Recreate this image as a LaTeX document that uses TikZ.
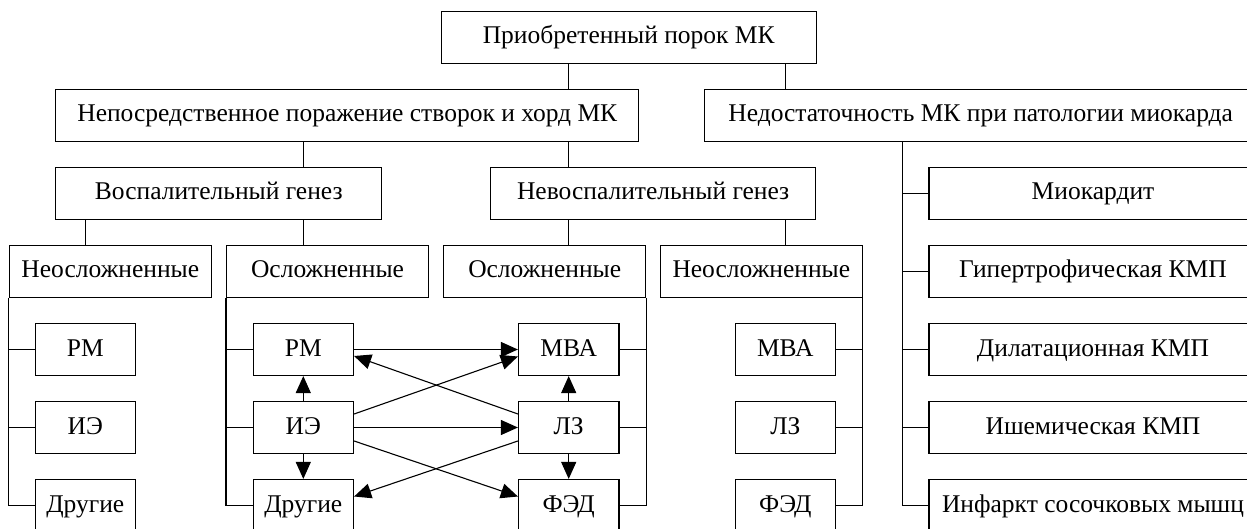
\documentclass[tikz,border=0pt]{standalone}
\usepackage{fontspec}
\setmainfont{Liberation Serif}
\usetikzlibrary{arrows.meta}

\tikzset{
  box/.style={draw, line width=1.1pt, minimum height=52pt, inner sep=0pt,
    text height=18pt, text depth=5pt, font=\fontsize{25.5}{30}\selectfont},
  small/.style={box, minimum width=100.5pt},
  mid/.style={box, minimum width=202pt},
  link/.style={line width=1.1pt},
  arr/.style={link, -{Triangle[length=17pt,width=15pt]}},
}

\begin{document}
\begin{tikzpicture}[x=1pt, y=-1pt]
    \useasboundingbox (0,0) rectangle (1247,529);
    \clip (0,0) rectangle (1247,529);

    % Upper levels
    \node[box, minimum width=375pt] (top) at (628.7,37.5) {Приобретенный порок МК};
    \node[box, minimum width=583pt] (dir) at (347.3,115.3) {Непосредственное поражение створок и хорд МК};
    \node[box, minimum width=553pt] (myo) at (980.7,115.3) {Недостаточность МК при патологии миокарда};
    \node[box, minimum width=326pt] (infl) at (218.8,193.5) {Воспалительный генез};
    \node[box, minimum width=325pt] (noninfl) at (653.2,193.5) {Невоспалительный генез};

    \node[mid] (neoA) at (110.3,271.2) {Неосложненные};
    \node[mid] (osB) at (327.5,271.2) {Осложненные};
    \node[mid] (osC) at (544.7,271.2) {Осложненные};
    \node[mid] (neoD) at (761.3,271.2) {Неосложненные};

    % Myocardial column
    \foreach \n/\t [count=\i] in {mio/Миокардит, hyp/Гипертрофическая КМП, dil/Дилатационная КМП, isch/Ишемическая КМП, inf/Инфаркт сосочковых мышц}
        \node[box, minimum width=328pt] (\n) at (1093, 115.5+78*\i) {\t};

    % Small boxes
    \foreach \c/\x in {A/85.3, B/303.3} {
        \node[small] (rm\c) at (\x,349.5) {РМ};
        \node[small] (ie\c) at (\x,427.5) {ИЭ};
        \node[small] (dr\c) at (\x,505.5) {Другие};
    }
    \foreach \c/\x in {C/568.7, D/785.3} {
        \node[small] (mva\c) at (\x,349.5) {МВА};
        \node[small] (lz\c) at (\x,427.5) {ЛЗ};
        \node[small] (fed\c) at (\x,505.5) {ФЭД};
    }

    % Tree links
    \draw[link] (top.south -| lzC) -- (dir.north -| lzC);
    \draw[link] (top.south -| lzD) -- (myo.north -| lzD);
    \draw[link] (dir.south -| ieB) -- (infl.north -| ieB);
    \draw[link] (dir.south -| lzC) -- (noninfl.north -| lzC);
    \draw[link] (infl.south -| ieA) -- (neoA.north -| ieA);
    \draw[link] (infl.south -| ieB) -- (osB.north -| ieB);
    \draw[link] (noninfl.south -| lzC) -- (osC.north -| lzC);
    \draw[link] (noninfl.south -| lzD) -- (neoD.north -| lzD);

    % Buses
    \draw[link] (neoA.south west) |- (drA.west);
    \draw[link] (osB.south west) |- (drB.west);
    \draw[link] (osC.south east) |- (fedC.east);
    \draw[link] (neoD.south east) |- (fedD.east);
    \foreach \n in {rmA, ieA} \draw[link] (neoA.south west |- \n.west) -- (\n.west);
    \foreach \n in {rmB, ieB} \draw[link] (osB.south west |- \n.west) -- (\n.west);
    \foreach \n in {mvaC, lzC} \draw[link] (osC.south east |- \n.east) -- (\n.east);
    \foreach \n in {mvaD, lzD} \draw[link] (neoD.south east |- \n.east) -- (\n.east);

    \coordinate (busR) at ([xshift=-26pt]mio.west);
    \draw[link] (myo.south -| busR) |- (inf.west);
    \foreach \n in {mio, hyp, dil, isch} \draw[link] (busR |- \n.west) -- (\n.west);

    % Complications
    \draw[arr] (rmB.east) -- (mvaC.west);
    \draw[arr] ([yshift=13.5pt]ieB.east) -- ([yshift=-7pt]mvaC.west);
    \draw[arr] ([yshift=13.5pt]lzC.west) -- ([yshift=-6.5pt]rmB.east);
    \draw[arr] (ieB.east) -- (lzC.west);
    \draw[arr] ([yshift=-13.5pt]ieB.east) -- ([yshift=9pt]fedC.west);
    \draw[arr] ([yshift=-13.5pt]lzC.west) -- ([yshift=9pt]drB.east);
    \draw[arr] (ieB.north) -- (rmB.south);
    \draw[arr] (ieB.south) -- (drB.north);
    \draw[arr] (lzC.north) -- (mvaC.south);
    \draw[arr] (lzC.south) -- (fedC.north);
\end{tikzpicture}
\end{document}
